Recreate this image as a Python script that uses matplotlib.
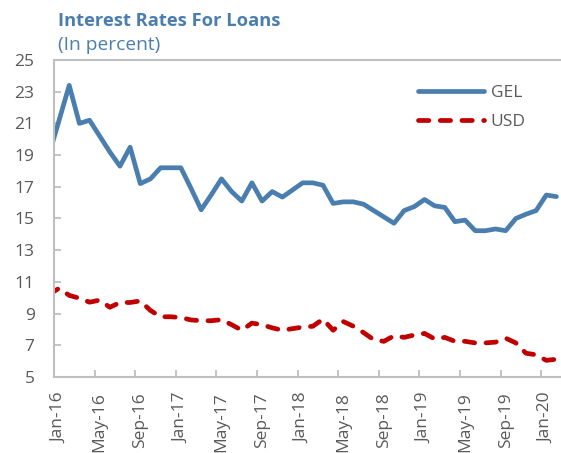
import matplotlib
matplotlib.use("Agg")
import matplotlib.pyplot as plt

# monthly data, Dec-15 .. Feb-20 (Dec-15 only shows as the clipped start of the lines)
months = ["Dec-15",
          "Jan-16", "Feb-16", "Mar-16", "Apr-16", "May-16", "Jun-16", "Jul-16", "Aug-16",
          "Sep-16", "Oct-16", "Nov-16", "Dec-16",
          "Jan-17", "Feb-17", "Mar-17", "Apr-17", "May-17", "Jun-17", "Jul-17", "Aug-17",
          "Sep-17", "Oct-17", "Nov-17", "Dec-17",
          "Jan-18", "Feb-18", "Mar-18", "Apr-18", "May-18", "Jun-18", "Jul-18", "Aug-18",
          "Sep-18", "Oct-18", "Nov-18", "Dec-18",
          "Jan-19", "Feb-19", "Mar-19", "Apr-19", "May-19", "Jun-19", "Jul-19", "Aug-19",
          "Sep-19", "Oct-19", "Nov-19", "Dec-19",
          "Jan-20", "Feb-20"]

gel = [19.0,
       21.2, 23.4, 21.0, 21.2, 20.2, 19.2, 18.3, 19.5, 17.2, 17.5, 18.2, 18.2,
       18.2, 16.9, 15.55, 16.5, 17.5, 16.7, 16.1, 17.25, 16.1, 16.7, 16.35, 16.8,
       17.25, 17.25, 17.1, 15.95, 16.05, 16.05, 15.9, 15.5, 15.1, 14.7, 15.5, 15.75,
       16.2, 15.8, 15.7, 14.8, 14.9, 14.23, 14.23, 14.34, 14.23, 15.0, 15.27, 15.5,
       16.48, 16.38]

usd = [10.2,
       10.6, 10.15, 9.97, 9.72, 9.85, 9.4, 9.7, 9.7, 9.8, 9.2, 8.8, 8.8,
       8.75, 8.6, 8.55, 8.55, 8.62, 8.3, 7.95, 8.4, 8.3, 8.1, 7.95, 8.05,
       8.15, 8.2, 8.65, 7.95, 8.5, 8.2, 7.8, 7.35, 7.25, 7.6, 7.5, 7.65,
       7.75, 7.4, 7.5, 7.25, 7.25, 7.15, 7.15, 7.2, 7.45, 7.15, 6.5, 6.4,
       6.05, 6.12]

yticks = list(range(5, 26, 2))
label_step = 4

blue = "#4A7EAF"
red = "#C00000"
grey = "#595959"
font = "Open Sans"
fs = 12.5

x = list(range(-1, len(months) - 1))

fig = plt.figure(figsize=(5.61, 4.53), dpi=100)
ax = fig.add_axes([54 / 561, 76 / 453, 507.5 / 561, 317 / 453])

ax.plot(x, gel, color=blue, lw=3.4, solid_joinstyle="round", solid_capstyle="round",
        label="GEL")
ax.plot(x, usd, color=red, lw=3.4, dashes=(2.2, 2.4), dash_capstyle="round",
        dash_joinstyle="round", label="USD")

ax.set_xlim(-0.5, len(months) - 1.5)
ax.set_ylim(5, 25)

ax.set_yticks(yticks)
ax.set_yticklabels([str(t) for t in yticks], fontfamily=font, fontsize=fs, color=grey)

pos = list(range(0, len(months) - 1, label_step))
ax.set_xticks(pos)
ax.set_xticklabels([months[p + 1] for p in pos], rotation=90, fontfamily=font,
                   fontsize=fs, color=grey)
ax.set_xticks([p - 0.5 for p in pos], minor=True)
ax.tick_params(axis="x", which="major", length=0, pad=11)
ax.tick_params(axis="x", which="minor", direction="in", length=5, width=1.3, color="#BFBFBF")
ax.tick_params(axis="y", direction="in", length=5, width=1.3, color="#BFBFBF", pad=14)

for side in ["left", "bottom", "top"]:
    ax.spines[side].set_color("#BFBFBF")
    ax.spines[side].set_linewidth(1.5)
ax.spines["right"].set_visible(False)

leg = ax.legend(loc="upper left", bbox_to_anchor=(0.686, 0.97), frameon=False,
                handlelength=3.8, labelspacing=0.75, handletextpad=0.4,
                prop={"family": font, "size": fs})
for t in leg.get_texts():
    t.set_color(grey)

fig.text(58 / 561, 1 - 21 / 453, "Interest Rates For Loans", fontfamily=font,
         fontweight="bold", fontsize=13.2, color=blue, va="center", ha="left")
fig.text(58 / 561, 1 - 45 / 453, "(In percent)", fontfamily=font,
         fontsize=13.8, color=blue, va="center", ha="left")

fig.savefig("out.png", dpi=100)
